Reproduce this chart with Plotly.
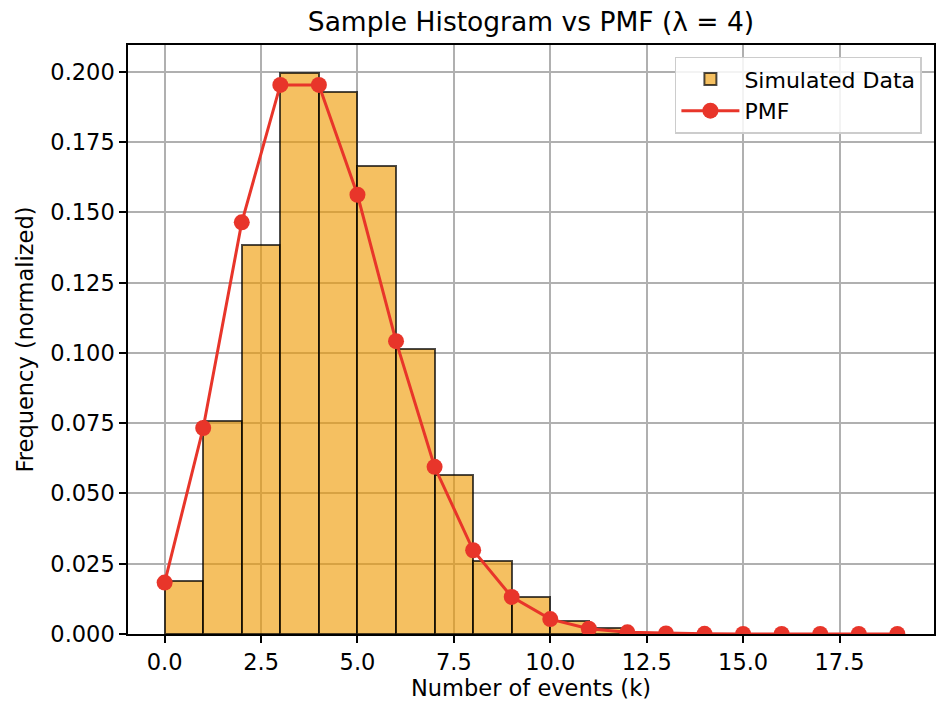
import plotly.graph_objects as go

# Histogram (normalized) – bin left edges and heights
bin_left = [0, 1, 2, 3, 4, 5, 6, 7, 8, 9, 10, 11]
hist_heights = [0.0189, 0.0758, 0.1384, 0.1996, 0.1929, 0.1665, 0.1014,
                0.0566, 0.0260, 0.0132, 0.0046, 0.0021]

# PMF points
k_values = list(range(20))
pmf_values = [0.0183, 0.0733, 0.1465, 0.1954, 0.1954, 0.1563, 0.1042, 0.0595,
              0.0298, 0.0132, 0.0053, 0.0019, 0.0006, 0.0002, 0.00006,
              0.00002, 0.000004, 0.000001, 0.0000002, 0.00000005]

x_ticks = [0, 2.5, 5, 7.5, 10, 12.5, 15, 17.5]
x_tick_labels = ["0.0", "2.5", "5.0", "7.5", "10.0", "12.5", "15.0", "17.5"]
y_ticks = [0, 0.025, 0.05, 0.075, 0.1, 0.125, 0.15, 0.175, 0.2]
y_tick_labels = ["0.000", "0.025", "0.050", "0.075", "0.100", "0.125", "0.150", "0.175", "0.200"]

FONT = "DejaVu Sans"

fig = go.Figure()
fig.add_trace(go.Bar(
    x=bin_left, y=hist_heights, width=[1] * len(bin_left), offset=0,
    name="Simulated Data",
    marker=dict(color="rgba(239,154,0,0.62)",
                line=dict(color="rgba(0,0,0,0.7)", width=2)),
))
fig.add_trace(go.Scatter(
    x=k_values, y=pmf_values, mode="lines+markers", name="PMF",
    line=dict(color="#e8352a", width=3),
    marker=dict(color="#e8352a", size=16),
))

axis_common = dict(
    showline=True, linecolor="black", linewidth=1.5, mirror=True,
    ticks="outside", ticklen=7, tickwidth=1.5, tickcolor="black",
    showgrid=True, gridcolor="#b0b0b0", gridwidth=1.6,
    zeroline=False, tickfont=dict(family=FONT, size=22.5, color="black"),
)

fig.update_layout(
    width=943, height=704,
    margin=dict(l=128, r=7, t=45, b=70),
    paper_bgcolor="white", plot_bgcolor="white",
    font=dict(family=FONT, size=22, color="black"),
    title=dict(text="Sample Histogram vs PMF (λ = 4)", x=0.5, xref="paper",
               y=1 - 22 / 704, yanchor="middle",
               font=dict(family=FONT, size=26.5, color="black")),
    bargap=0,
    showlegend=True,
    legend=dict(x=0.985, y=0.98, xanchor="right", yanchor="top",
                itemwidth=58,
                bgcolor="rgba(255,255,255,0.85)", bordercolor="#cccccc",
                borderwidth=1.5, font=dict(family=FONT, size=22, color="black")),
    xaxis=dict(range=[-0.95, 19.95], tickvals=x_ticks, ticktext=x_tick_labels,
               title=dict(text="Number of events (k)", standoff=4,
                          font=dict(family=FONT, size=22.5)), **axis_common),
    yaxis=dict(range=[0, 0.2096], tickvals=y_ticks, ticktext=y_tick_labels,
               title=dict(text="Frequency (normalized)", standoff=10,
                          font=dict(family=FONT, size=22.5)), **axis_common),
)

fig.write_html("out.html")
